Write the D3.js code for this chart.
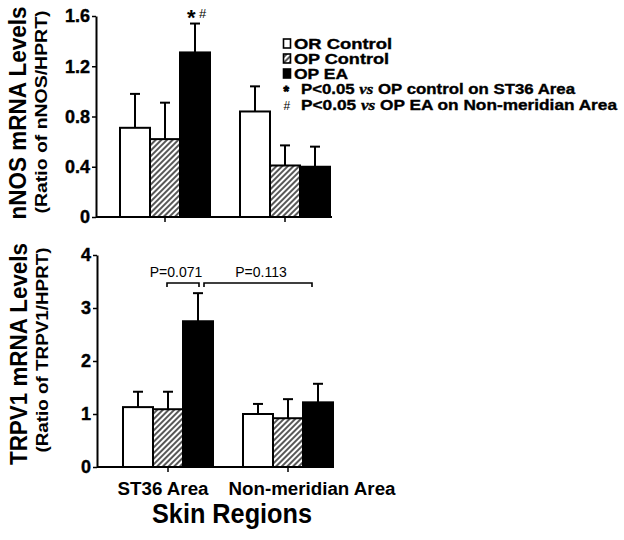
<!DOCTYPE html>
<html><head><meta charset="utf-8">
<script src="https://cdn.jsdelivr.net/npm/d3@7"></script>
<style>
html,body{margin:0;padding:0;background:#fff;}
text{font-family:"Liberation Sans",Arial,sans-serif;}
</style></head>
<body>
<svg id="c" width="624" height="540"></svg>
<script>
const regions = ["ST36 Area", "Non-meridian Area"];
const series = ["OR Control", "OP Control", "OP EA"];
// nNOS (top panel)
const nnosMean = [[0.71, 0.62, 1.31], [0.84, 0.41, 0.40]];
const nnosErr  = [[0.27, 0.29, 0.23], [0.20, 0.16, 0.16]];
const nnosTicks = [0, 0.4, 0.8, 1.2, 1.6];
// TRPV1 (bottom panel)
const trpvMean = [[1.13, 1.09, 2.75], [1.00, 0.92, 1.22]];
const trpvErr  = [[0.29, 0.33, 0.53], [0.19, 0.36, 0.35]];
const trpvTicks = [0, 1, 2, 3, 4];
const legendNotes = [
  {sym: "*", pre: "P<0.05 ", it: "vs", post: " OP control on ST36 Area"},
  {sym: "#", pre: "P<0.05 ", it: "vs", post: " OP EA on Non-meridian Area"}
];

const svg = d3.select("#c");
const defs = svg.append("defs");
const pat = defs.append("pattern").attr("id","hatch").attr("patternUnits","userSpaceOnUse")
  .attr("width",4).attr("height",4).attr("patternTransform","rotate(45)");
pat.append("rect").attr("width",4).attr("height",4).attr("fill","#fff");
pat.append("line").attr("x1",1).attr("y1",0).attr("x2",1).attr("y2",4).attr("stroke","#3a3a3a").attr("stroke-width",1.7);
const fills = ["#fff","url(#hatch)","#000"];

function panel(opts){
  const {means, errs, ticks, y0, y1, dom, xRange, axisEnd, fmt} = opts;
  const g = svg.append("g");
  const y = d3.scaleLinear().domain(dom).range([y0, y1]);
  const x0 = d3.scaleBand().domain(regions).range(xRange);
  const x1 = d3.scaleBand().domain(series).range([-45, 45]);
  regions.forEach((r, i) => {
    const gg = g.append("g");
    const cx = s => x0(r) + x0.bandwidth()/2 + x1(s);
    gg.selectAll("rect").data(series).join("rect")
      .attr("x", s => cx(s))
      .attr("width", x1.bandwidth())
      .attr("y", (s, j) => y(means[i][j]))
      .attr("height", (s, j) => y(0) - y(means[i][j]))
      .attr("fill", (s, j) => fills[j])
      .attr("stroke", "#000").attr("stroke-width", 2);
    gg.selectAll("line.e").data(series).join("line").attr("class","e")
      .attr("x1", s => cx(s) + x1.bandwidth()/2)
      .attr("x2", s => cx(s) + x1.bandwidth()/2)
      .attr("y1", (s, j) => y(means[i][j]))
      .attr("y2", (s, j) => y(means[i][j] + errs[i][j]))
      .attr("stroke", "#000").attr("stroke-width", 2);
    gg.selectAll("line.c").data(series).join("line").attr("class","c")
      .attr("x1", s => cx(s) + x1.bandwidth()/2 - 5)
      .attr("x2", s => cx(s) + x1.bandwidth()/2 + 5)
      .attr("y1", (s, j) => y(means[i][j] + errs[i][j]))
      .attr("y2", (s, j) => y(means[i][j] + errs[i][j]))
      .attr("stroke", "#000").attr("stroke-width", 2);
  });
  const ya = g.append("g").attr("transform", `translate(${opts.axisX},0)`)
    .call(d3.axisLeft(y).tickValues(ticks).tickSize(4).tickSizeOuter(0).tickFormat(fmt));
  ya.select(".domain").attr("stroke-width", 2);
  ya.selectAll(".tick line").attr("stroke-width", 1.5);
  ya.selectAll(".tick text").attr("font-size", 18).attr("font-weight", "bold")
    .attr("font-family", "Liberation Sans, Arial").attr("fill", "#000").attr("x", -6)
    .attr("stroke", "#000").attr("stroke-width", 0.4);
  g.append("line").attr("x1", opts.axisX).attr("x2", axisEnd).attr("y1", y(0)).attr("y2", y(0))
    .attr("stroke", "#000").attr("stroke-width", 2);
  g.selectAll("line.xt").data(regions).join("line").attr("class","xt")
    .attr("x1", r => x0(r) + x0.bandwidth()/2).attr("x2", r => x0(r) + x0.bandwidth()/2)
    .attr("y1", y(0)).attr("y2", y(0) + 5).attr("stroke", "#000").attr("stroke-width", 1.5);
  return {x0, x1, y};
}

const topPanel = panel({means: nnosMean, errs: nnosErr, ticks: nnosTicks, y0: 217, y1: 16, dom: [0, 1.6],
  xRange: [105, 345], axisX: 96, axisEnd: 332, fmt: d => d === 0 ? "0" : d.toFixed(1)});
const botPanel = panel({means: trpvMean, errs: trpvErr, ticks: trpvTicks, y0: 467, y1: 255, dom: [0, 4],
  xRange: [108, 348], axisX: 97, axisEnd: 333, fmt: d => String(d)});

function ytitle(x, y, txt, size, len){
  svg.append("text").attr("transform", `translate(${x},${y}) rotate(-90)`)
    .attr("text-anchor", "middle").attr("font-size", size).attr("font-weight", "bold")
    .attr("textLength", len).attr("lengthAdjust", "spacingAndGlyphs").text(txt);
}
ytitle(26, 113, "nNOS mRNA Levels", 23, 213);
ytitle(47, 112, "(Ratio of nNOS/HPRT)", 17, 203);
ytitle(27, 354, "TRPV1 mRNA Levels", 23, 222);
ytitle(48, 350, "(Ratio of TRPV1/HPRT)", 17, 205);

svg.append("text").attr("x", 187).attr("y", 25).attr("font-size", 22).attr("font-weight", "bold").text("*");
svg.append("text").attr("x", 199).attr("y", 18).attr("font-size", 13).text("#");

const lg = svg.append("g");
const lrows = [49, 64, 79];
series.forEach((s, i) => {
  lg.append("rect").attr("x", 283.5).attr("y", lrows[i] - 10).attr("width", 7).attr("height", 9)
    .attr("fill", fills[i]).attr("stroke", "#000").attr("stroke-width", 1.6);
  lg.append("text").attr("x", 294).attr("y", lrows[i]).attr("font-size", 14.5).attr("font-weight", "bold")
    .attr("stroke", "#000").attr("stroke-width", 0.35)
    .attr("textLength", [98, 95, 54][i]).attr("lengthAdjust", "spacingAndGlyphs").text(s);
});
legendNotes.forEach((n, i) => {
  const yy = [94, 110][i];
  lg.append("text").attr("x", 283.5).attr("y", n.sym === "*" ? yy + 2 : yy)
    .attr("font-size", n.sym === "*" ? 14 : 12).attr("font-weight", n.sym === "*" ? "bold" : "normal")
    .attr("stroke", "#000").attr("stroke-width", n.sym === "*" ? 0.9 : 0).text(n.sym);
  const t = lg.append("text").attr("x", 301).attr("y", yy).attr("font-size", 14.5).attr("font-weight", "bold")
    .attr("stroke", "#000").attr("stroke-width", 0.35)
    .attr("textLength", [274, 316][i]).attr("lengthAdjust", "spacingAndGlyphs");
  t.append("tspan").text(n.pre);
  t.append("tspan").attr("font-family", "Liberation Serif, Times New Roman, serif").attr("font-style", "italic").text(n.it);
  t.append("tspan").text(n.post);
});

function bracket(xa, xb, yy){
  svg.append("path").attr("d", `M${xa},${yy+4}V${yy}H${xb}V${yy+4}`)
    .attr("fill", "none").attr("stroke", "#000").attr("stroke-width", 1.6);
}
bracket(167, 199, 283);
bracket(204, 312, 283);
svg.append("text").attr("x", 176).attr("y", 277).attr("text-anchor", "middle").attr("font-size", 14).text("P=0.071");
svg.append("text").attr("x", 261).attr("y", 277).attr("text-anchor", "middle").attr("font-size", 14).text("P=0.113");

svg.append("text").attr("x", 163).attr("y", 495).attr("text-anchor", "middle").attr("font-size", 18)
  .attr("font-weight", "bold").attr("textLength", 91).attr("lengthAdjust", "spacingAndGlyphs").text(regions[0]);
svg.append("text").attr("x", 312).attr("y", 495).attr("text-anchor", "middle").attr("font-size", 18)
  .attr("font-weight", "bold").attr("textLength", 167).attr("lengthAdjust", "spacingAndGlyphs").text(regions[1]);
svg.append("text").attr("x", 232).attr("y", 523).attr("text-anchor", "middle").attr("font-size", 28)
  .attr("font-weight", "bold").attr("textLength", 160).attr("lengthAdjust", "spacingAndGlyphs").text("Skin Regions");
</script>
</body></html>
